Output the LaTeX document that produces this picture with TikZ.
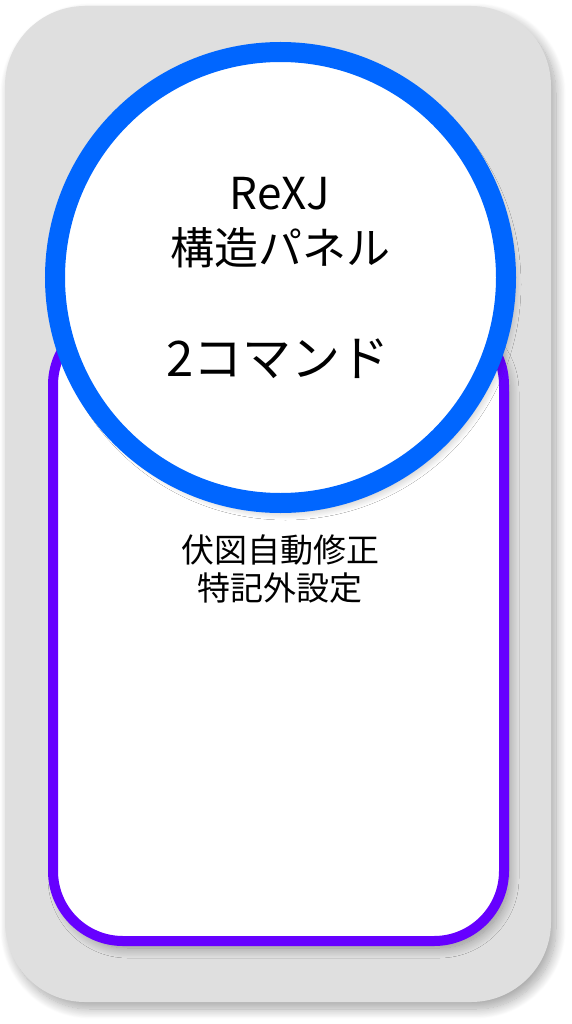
\documentclass[tikz,border=0pt]{standalone}
\usepackage{fontspec}
\setmainfont{Noto Sans CJK JP}
\usetikzlibrary{shadows.blur}
\definecolor{fond}{HTML}{DFDFDF}
\definecolor{bleu}{HTML}{0066FF}
\definecolor{mauve}{HTML}{6600FF}

\begin{document}
\begin{tikzpicture}[x=1pt,y=-1pt]
\tikzstyle{ombre}=[blur shadow={shadow xshift=5pt,shadow yshift=-7pt,shadow blur radius=10pt,shadow blur steps=16,shadow opacity=35}]
\tikzstyle{boite}=[rectangle,inner sep=0pt,outer sep=0pt,ombre]
\useasboundingbox (0,0) rectangle (571,1024);
\node (1) at (278,504) [boite,fill=fond,minimum width=546pt,minimum height=996pt,rounded corners=80pt]{};
\node (2) at (278.5,628) [boite,fill=white,draw=mauve,line width=10pt,minimum width=451pt,minimum height=626pt,rounded corners=70pt]{};
\node (3) at (280.5,277.5) [circle,inner sep=0pt,outer sep=0pt,ombre,fill=white,draw=bleu,line width=20pt,minimum size=451pt]{};
\node (4) at (280,223) [align=center,text=black,font=\fontsize{44}{55}\selectfont]{ReXJ\\構造パネル};
\node (6) at (278,359) [text=black,font=\fontsize{49}{55}\selectfont]{2コマンド};
\node (5) at (280,569) [align=center,text=black,font=\fontsize{33}{38}\selectfont]{伏図自動修正\\特記外設定};
\end{tikzpicture}
\end{document}
